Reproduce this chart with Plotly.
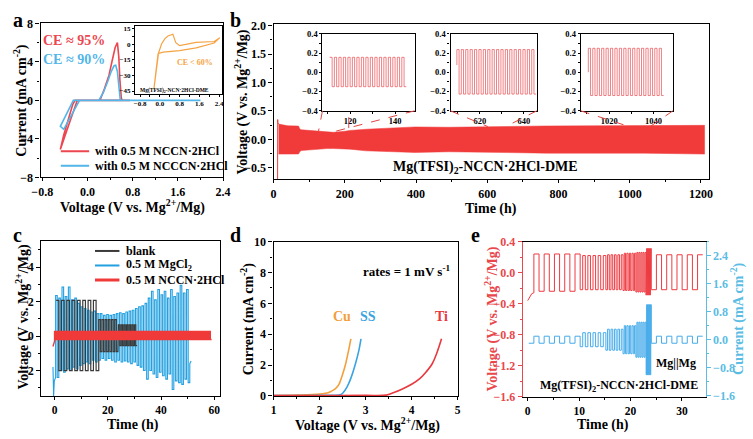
import plotly.graph_objects as go

W, H = 753, 439
SERIF = "Liberation Serif"

# ---------------- data ----------------
# panel a : cyclic voltammograms
A_NCCN_V = [0.75, -0.18, -0.30, -0.40, -0.48, -0.42, -0.34, -0.26, -0.22, 0.22, 0.30, 0.38, 0.44, 0.49,
            0.53, 0.555, 0.575, 0.60, 0.62, 0.75]
A_NCCN_I = [0, 0, -2.0, -3.6, -5.1, -3.6, -1.9, -0.4, 0, 0, 1.2, 2.6, 4.2, 5.5, 6.0, 4.5, 2.0, 0.2, 0, 0]
A_NCCCN_V = [2.0, -0.14, -0.28, -0.42, -0.48, -0.38, -0.27, -0.25, 0.20, 0.28, 0.36, 0.42, 0.47, 0.50,
             0.53, 0.56, 0.58, 0.60, 2.0]
A_NCCCN_I = [0, 0, -1.5, -3.0, -2.7, -1.5, -0.1, 0, 0, 0.8, 2.0, 3.0, 3.6, 3.65, 3.0, 1.2, 0.1, 0, 0]
A_INSET_V = [2.43, 2.2, 1.47, 0.8, 0.13, -0.07, -0.15, -0.24, -0.20, -0.12, -0.05, 0.07, 0.2, 0.33, 0.45,
             0.53, 0.58, 0.64, 0.8, 1.1, 1.47, 2.2, 2.43]
A_INSET_I = [6.2, 1.0, -3.6, -6.2, -7.7, -9.2, -25, -43.4, -40, -20, -8.5, 0.1, 5, 7.8, 9.2, 9.4, 6, 1.6,
             -1.5, 0, 1.6, 2.5, 6.2]

# panel b : long-term cycling envelope
B_T = [14, 40, 70, 74, 78, 100, 122, 150, 168, 200, 214, 260, 300, 397, 492, 600, 766, 900, 1040, 1210]
B_UP = [0.27, 0.24, 0.235, 0.18, 0.17, 0.16, 0.145, 0.13, 0.125, 0.145, 0.158, 0.18, 0.195, 0.22, 0.214,
        0.225, 0.237, 0.24, 0.248, 0.248]
B_LO = [-0.257, -0.257, -0.255, -0.21, -0.195, -0.18, -0.17, -0.16, -0.16, -0.165, -0.17, -0.2, -0.205,
        -0.228, -0.216, -0.225, -0.24, -0.24, -0.24, -0.257]
B_SPIKE_T = [11.2, 11.5, 12.0, 14.0]
B_SPIKE_V = [-0.70, 0.35, 0.29, 0.27]
B_INSET_START = [111.0, 609.6, 1010.6]
B_INSET_CYCLES = [17, 18, 17]
B_INSET_HALF = 1.0
B_INSET_HI = [0.155, 0.236, 0.249]
B_INSET_LO = [-0.151, -0.228, -0.243]
B_INSET_LEAD = [0.16, 0.074, 0.0]

# panel c : symmetric cells
C_BLANK_START = [0.6, 16.6, 24.0]
C_BLANK_CYCLES = [8, 6, 7]
C_BLANK_HALF = [1.0, 0.6, 0.5]
C_BLANK_HI = [2.07, 0.95, 0.65]
C_BLANK_LO = [-2.0, -0.9, -0.55]
C_MGCL2_START = 0.4
C_MGCL2_HALF = 0.6
C_MGCL2_TOP = [2.35, 2.2, 2.85, 2.3, 2.85, 2.1, 2.2, 1.9, 1.7, 1.6, 1.5, 1.4, 1.45, 1.3, 1.3, 1.2, 1.25, 1.2,
               1.25, 1.3, 1.35, 1.3, 1.4, 1.45, 1.5, 1.6, 1.7, 1.75, 1.9, 2.2, 2.6, 2.1, 2.7, 2.4, 2.6, 2.2,
               2.7, 2.3, 2.5, 2.95, 2.5, 2.7]
C_MGCL2_BOT = [-2.4, -2.0, -2.1, -1.9, -2.0, -1.8, -1.9, -1.7, -1.6, -1.5, -1.6, -1.4, -1.5, -1.4, -1.3, -1.4,
               -1.3, -1.4, -1.5, -1.4, -1.5, -1.45, -1.5, -1.6, -1.5, -1.7, -1.8, -2.0, -2.5, -2.0, -2.2,
               -2.4, -2.1, -2.3, -2.5, -2.2, -3.1, -2.6, -2.7, -2.8, -2.5, -2.7]
C_MGCL2_LEAD_T = [-0.6, -0.35, -0.1, 0.4]
C_MGCL2_LEAD_V = [-1.8, -3.47, -2.6, -2.4]
C_MGCL2_TAIL_T = [50.8, 51.3]
C_MGCL2_TAIL_V = [-1.6, -1.45]
C_NCCN_LEAD_T = [-0.6, 0.0]
C_NCCN_LEAD_V = [-0.6, -0.3]
C_NCCN_CYCLES = 59
C_NCCN_HALF = 0.5
C_NCCN_HI = 0.27
C_NCCN_LO = -0.2

# panel d : LSV
D_CU_V = [1.0, 1.5, 2.0, 2.2, 2.26, 2.34, 2.42, 2.5, 2.56, 2.62, 2.68]
D_CU_I = [0.02, 0.05, 0.12, 0.22, 0.31, 0.45, 0.75, 1.4, 2.0, 2.8, 3.7]
D_SS_V = [1.0, 2.0, 2.45, 2.51, 2.6, 2.68, 2.79, 2.85, 2.9]
D_SS_I = [0.02, 0.03, 0.08, 0.2, 0.6, 1.15, 2.2, 2.9, 3.7]
D_TI_V = [1.0, 2.0, 3.0, 3.45, 3.6, 3.8, 4.0, 4.17, 4.3, 4.45, 4.55, 4.65]
D_TI_I = [0.02, 0.02, 0.03, 0.05, 0.2, 0.45, 0.75, 1.1, 1.5, 2.1, 2.8, 3.7]

# panel e : rate test
E_CURRENT = [0.1, 0.2, 0.3, 0.4, 0.5, 1.0, 0.1]
E_HALF = [1.0, 0.5, 1 / 3, 0.25, 0.2, 0.1, 1.0]
E_CYCLES = [5, 5, 5, 5, 5, 5, 5]
E_V_POS = [0.24, 0.22, 0.23, 0.25, 0.26, 0.31, 0.23]
E_V_NEG = [-0.24, -0.22, -0.22, -0.23, -0.25, -0.29, -0.22]
E_START = 0.2
E_LEAD_T = [0.0, 0.4, 0.8, 1.2]
E_LEAD_V = [-0.36, -0.31, -0.27, -0.26]

# ---------------- colours ----------------
RED = "#EC4650"
BLUE_A = "#52B6E8"
ORANGE = "#F5A443"
BAND = "#F13B3B"
BLUE_C = "#22A0E0"
DARK = "#3A3A3A"
RED_E = "#EE3A40"
BLUE_E = "#45ABEA"
AX_RED = "#E8474C"
AX_BLUE = "#5BBCE4"


def steps(t0, halves, levels):
    xs, ys, t = [], [], t0
    for h, lv in zip(halves, levels):
        xs += [t, t + h]
        ys += [lv, lv]
        t += h
    return xs, ys


fig = go.Figure()

# ---- panel a
fig.add_trace(go.Scatter(x=A_NCCN_V, y=A_NCCN_I, mode="lines", line=dict(color=RED, width=1.6),
                         xaxis="x", yaxis="y", name="with 0.5 M NCCN·2HCl"))
fig.add_trace(go.Scatter(x=A_NCCCN_V, y=A_NCCCN_I, mode="lines", line=dict(color=BLUE_A, width=1.6),
                         xaxis="x", yaxis="y", name="with 0.5 M NCCCN·2HCl"))
fig.add_trace(go.Scatter(x=A_INSET_V, y=A_INSET_I, mode="lines", line=dict(color=ORANGE, width=1.2),
                         xaxis="x2", yaxis="y2", name="inset"))

# ---- panel b
fig.add_trace(go.Scatter(x=B_T + B_T[::-1], y=B_UP + B_LO[::-1], fill="toself", fillcolor=BAND,
                         mode="lines", line=dict(color=BAND, width=0.5), xaxis="x3", yaxis="y3"))
fig.add_trace(go.Scatter(x=B_SPIKE_T, y=B_SPIKE_V, mode="lines", line=dict(color=BAND, width=1),
                         xaxis="x3", yaxis="y3"))
for i in range(3):
    n = B_INSET_CYCLES[i]
    xs, ys = steps(B_INSET_START[i], [B_INSET_HALF] * (2 * n), [B_INSET_HI[i], B_INSET_LO[i]] * n)
    xs = [B_INSET_START[i]] + xs
    ys = [B_INSET_LEAD[i]] + ys
    fig.add_trace(go.Scatter(x=xs, y=ys, mode="lines", line=dict(color="#EA4A50", width=0.7),
                             xaxis="x%d" % (4 + i), yaxis="y%d" % (4 + i)))

# ---- panel c
mx, my = steps(C_MGCL2_START, [C_MGCL2_HALF] * (2 * len(C_MGCL2_TOP)),
               [v for pair in zip(C_MGCL2_TOP, C_MGCL2_BOT) for v in pair])
fig.add_trace(go.Scatter(x=C_MGCL2_LEAD_T + mx + C_MGCL2_TAIL_T, y=C_MGCL2_LEAD_V + my + C_MGCL2_TAIL_V,
                         mode="lines", line=dict(color=BLUE_C, width=1.1), xaxis="x7", yaxis="y7"))
bx, by = [], []
for i in range(3):
    n = C_BLANK_CYCLES[i]
    sx, sy = steps(C_BLANK_START[i], [C_BLANK_HALF[i]] * (2 * n), [C_BLANK_HI[i], C_BLANK_LO[i]] * n)
    bx += sx
    by += sy
fig.add_trace(go.Scatter(x=bx, y=by, mode="lines", line=dict(color=DARK, width=1.2), xaxis="x7", yaxis="y7"))
rx, ry = steps(0.0, [C_NCCN_HALF] * (2 * C_NCCN_CYCLES), [C_NCCN_HI, C_NCCN_LO] * C_NCCN_CYCLES)
fig.add_trace(go.Scatter(x=C_NCCN_LEAD_T + rx, y=C_NCCN_LEAD_V + ry, mode="lines",
                         line=dict(color="#F03A3A", width=1.4), xaxis="x7", yaxis="y7"))

# ---- panel d
fig.add_trace(go.Scatter(x=D_CU_V, y=D_CU_I, mode="lines", line=dict(color="#F2A03D", width=1.6),
                         line_shape="spline", xaxis="x8", yaxis="y8"))
fig.add_trace(go.Scatter(x=D_SS_V, y=D_SS_I, mode="lines", line=dict(color="#3BA3E0", width=1.6),
                         line_shape="spline", xaxis="x8", yaxis="y8"))
fig.add_trace(go.Scatter(x=D_TI_V, y=D_TI_I, mode="lines", line=dict(color="#E8393F", width=1.6),
                         line_shape="spline", xaxis="x8", yaxis="y8"))

# ---- panel e
ch, cl, vl = [], [], []
for i in range(len(E_CURRENT)):
    for _ in range(E_CYCLES[i]):
        ch += [E_HALF[i], E_HALF[i]]
        cl += [-E_CURRENT[i], E_CURRENT[i]]
        vl += [E_V_NEG[i], E_V_POS[i]]
cx, cy = steps(E_START, ch, cl)
vx, vy = steps(E_START, ch, vl)
fig.add_trace(go.Scatter(x=E_LEAD_T + vx[2:], y=E_LEAD_V + vy[2:], mode="lines",
                         line=dict(color=RED_E, width=1), xaxis="x9", yaxis="y9"))
fig.add_trace(go.Scatter(x=cx, y=cy, mode="lines", line=dict(color=BLUE_E, width=1),
                         xaxis="x9", yaxis="y10"))

fig.update_traces(showlegend=False)


# ---------------- layout ----------------
def xd(a, b):
    return [a / W, b / W]


def yd(top, bottom):
    return [1 - bottom / H, 1 - top / H]


def axis(dom, rng, tick0, dtick, minor, anchor, size=12, fmt=None, ticklen=4, color="black", **kw):
    d = dict(domain=dom, range=rng, tickmode="linear", tick0=tick0, dtick=dtick, anchor=anchor,
             showline=True, linecolor=color, linewidth=1.2, mirror=True, ticks="outside",
             ticklen=ticklen, tickwidth=1.1, tickcolor=color, showgrid=False, zeroline=False,
             tickfont=dict(family=SERIF, size=size, color=color, weight="bold"),
             minor=dict(ticks="outside", ticklen=max(2, ticklen // 2), tickwidth=1, tickcolor=color,
                        dtick=minor, tick0=tick0, showgrid=False))
    if fmt:
        d["tickformat"] = fmt
    d.update(kw)
    return d


lay = dict(width=W, height=H, autosize=False, margin=dict(l=0, r=0, t=0, b=0),
           paper_bgcolor="white", plot_bgcolor="white",
           font=dict(family=SERIF, size=12, color="black", weight="bold"))
lay["xaxis"] = axis(xd(32.3, 219), [-0.83, 2.4], -0.8, 0.8, 0.4, "y", fmt=".1f", ticklen=3)
lay["yaxis"] = axis(yd(17, 176), [-8, 8], 0, 4, 2, "x")
lay["xaxis2"] = axis(xd(129, 218), [-1.0, 2.52], -0.8, 0.8, 0.4, "y2", size=7, fmt=".1f", ticklen=2)
lay["yaxis2"] = axis(yd(20, 90), [-48, 17], 0, 15, 7.5, "x2", size=7, ticklen=2)
lay["xaxis3"] = axis(xd(270.7, 716), [0, 1222], 0, 200, 100, "y3", ticklen=3)
lay["yaxis3"] = axis(yd(18, 178), [-0.7, 2.02], 0, 0.5, 0.25, "x3", fmt=".1f")
inset_px = [(320.7, 415), (451.7, 540), (585, 679.3)]
inset_rng = [(107.7, 148.7), (606.7, 645.9), (1007.2, 1048.8)]
for i in range(3):
    lay["xaxis%d" % (4 + i)] = axis(xd(*inset_px[i]), list(inset_rng[i]), 0, 20, 10, "y%d" % (4 + i),
                                    size=8.5, ticklen=2)
    lay["yaxis%d" % (4 + i)] = axis(yd(27.7, 107), [-0.4, 0.4], 0, 0.2, 0.1, "x%d" % (4 + i),
                                    size=8.5, fmt=".1f", ticklen=2)
lay["xaxis7"] = axis(xd(33, 216), [-5, 62.2], 0, 20, 10, "y7", ticklen=3, size=11.5)
lay["yaxis7"] = axis(yd(242, 401.7), [-3.47, 5.5], 0, 2, 1, "x7")
lay["xaxis8"] = axis(xd(270.7, 459), [1, 5], 1, 1, 0.5, "y8", ticklen=3, size=11.5)
lay["yaxis8"] = axis(yd(242.3, 401.7), [0, 10], 0, 2, 1, "x8")
lay["xaxis9"] = axis(xd(525.7, 712.7), [-0.95, 34.6], 0, 10, 5, "y9", ticklen=3, size=11.5)
lay["yaxis9"] = axis(yd(242.3, 402.7), [-1.6, 0.4], 0, 0.4, 0.2, "x9", fmt=".1f", color=AX_RED, mirror=False)
lay["yaxis10"] = axis(yd(242.3, 402.7), [-1.63, 2.8], 0, 0.8, 0.4, "x9", fmt=".1f", color=AX_BLUE,
                      mirror=False, overlaying="y9", side="right")


def ann(x, y, text, size=14, color="black", angle=0, xanchor="center"):
    return dict(x=x / W, y=1 - y / H, xref="paper", yref="paper", text=text, showarrow=False,
                textangle=angle, xanchor=xanchor, yanchor="middle", borderpad=0,
                font=dict(family=SERIF, size=size, color=color, weight="bold"))


MG = "Mg<sup>2+</sup>/Mg"
anns = [
    ann(9, 13, "a", 20), ann(232, 13, "b", 20), ann(9, 236, "c", 20), ann(232, 236, "d", 20),
    ann(477, 236, "e", 20),
    # axis titles
    ann(126, 206, "Voltage (V vs. " + MG + ")"), ann(12, 97, "Current (mA cm<sup>-2</sup>)", angle=-90),
    ann(493, 209, "Time (h)"), ann(238, 98, "Voltage (V vs. " + MG + ")", angle=-90),
    ann(127, 432, "Time (h)"), ann(14, 320, "Voltage (V vs. " + MG + ")", angle=-90),
    ann(367, 431, "Voltage (V vs. " + MG + ")"), ann(244, 322, "Current (mA cm<sup>-2</sup>)", angle=-90),
    ann(608, 432, "Time (h)"),
    ann(494, 322, "Voltage (V vs. " + MG + ")", color=AX_RED, angle=-90),
    ann(746, 322, "Current (mA cm<sup>-2</sup>)", color=AX_BLUE, angle=-90),
    # texts in panels
    ann(66, 35, "CE ≈ 95%", 14, RED), ann(66, 54, "CE ≈ 90%", 14, BLUE_A),
    ann(190, 57, "CE < 60%", 8, ORANGE), ann(169, 86, "Mg(TFSI)<sub>2</sub>-NCN·2HCl-DME", 5.5),
    ann(488, 166, "Mg(TFSI)<sub>2</sub>-NCCN·2HCl-DME", 14),
    ann(407, 273, "rates = 1 mV s<sup>-1</sup>", 13),
    ann(341, 320, "Cu", 14, "#F2A03D"), ann(367, 320, "SS", 14, "#3BA3E0"), ann(443, 320, "Ti", 14, "#E8393F"),
    ann(682, 368, "Mg||Mg", 12), ann(624, 392, "Mg(TFSI)<sub>2</sub>-NCCN·2HCl-DME", 12),
    # legends
    ann(87, 149, "with 0.5 M NCCN·2HCl", 12, xanchor="left"),
    ann(87, 164, "with 0.5 M NCCCN·2HCl", 12, xanchor="left"),
    ann(119, 252, "blank", 12, xanchor="left"),
    ann(119, 267, "0.5 M MgCl<sub>2</sub>", 12, xanchor="left"),
    ann(119, 282, "0.5 M NCCN·2HCl", 12, xanchor="left"),
]
lay["annotations"] = anns


def pline(x0, y0, x1, y1, color, width=2):
    return dict(type="line", xref="paper", yref="paper", x0=x0 / W, x1=x1 / W, y0=1 - y0 / H, y1=1 - y1 / H,
                line=dict(color=color, width=width))


def dline(x0, y0, x1, y1, dash="dash"):
    return dict(type="line", xref="x3", yref="y3", x0=x0, x1=x1, y0=y0, y1=y1,
                line=dict(color="#E04545", width=1, dash=dash))


shapes = [
    pline(53, 149, 82, 149, RED), pline(53, 164, 82, 164, BLUE_A),
    pline(88, 252, 113, 252, DARK), pline(88, 267, 113, 267, BLUE_C), pline(88, 282, 113, 282, "#F03A3A", 3),
    dline(137.2, 0.503, 126.2, 0.146), dline(395.9, 0.503, 164.6, 0.129),
    dline(496.6, 0.503, 601.6, 0.226), dline(738.8, 0.503, 651.9, 0.226),
    dline(862.3, 0.503, 1004.1, 0.214), dline(1121.0, 0.503, 1054.3, 0.214),
    dline(211.0, 0.39, 211.0, 0.2, dash="solid"),
]
lay["shapes"] = shapes
fig.update_layout(**lay)
fig.write_html("out.html", config={"displayModeBar": False},
               post_script="document.body.style.margin='0';document.body.style.overflow='hidden';")
